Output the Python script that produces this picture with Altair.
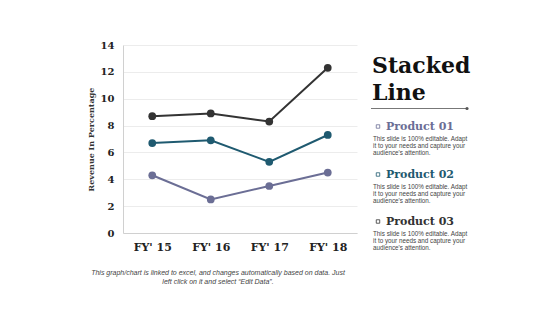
import altair as alt
import pandas as pd

years = ["FY' 15", "FY' 16", "FY' 17", "FY' 18"]
product_names = ["Product 01", "Product 02", "Product 03"]
product01 = [4.3, 2.5, 3.5, 4.5]
product02 = [6.7, 6.9, 5.3, 7.3]
product03 = [8.7, 8.9, 8.3, 12.3]
colors = ["#6b6e95", "#1f5a70", "#333333"]
y_ticks = [0, 2, 4, 6, 8, 10, 12, 14]

title_lines = ["Stacked", "Line"]
desc_lines = ["This slide is 100% editable. Adapt",
              "it to your needs and capture your",
              "audience's attention."]
footer_lines = ["This graph/chart is linked to excel, and changes automatically based on data. Just",
                "left click on it and select \u201cEdit Data\u201d."]

rows = []
for name, vals in zip(product_names, [product01, product02, product03]):
    for yr, v in zip(years, vals):
        rows.append({"Year": yr, "Product": name, "Value": v})
df = pd.DataFrame(rows)

W, H = 234, 188
L, T = 123, 45
SERIF = "DejaVu Serif"
SANS = "Liberation Sans"

x_enc = alt.X("Year:N", sort=years, scale=alt.Scale(paddingOuter=0.5),
              axis=alt.Axis(title=None, labelAngle=0, labelFont=SERIF, labelFontWeight="bold",
                            labelFontSize=11, labelColor="#222222", labelPadding=8, ticks=False,
                            domainColor="#d0d0d0", grid=False))
y_enc = alt.Y("Value:Q", scale=alt.Scale(domain=[0, 14]),
              axis=alt.Axis(title="Revenue In Percentage", values=y_ticks, titleFont=SERIF,
                            titleFontSize=8, titleFontWeight="bold", titleColor="#333333",
                            titlePadding=5, labelFont=SERIF, labelFontWeight="bold",
                            labelFontSize=10, labelColor="#222222", labelPadding=9,
                            ticks=False, domainColor="#d0d0d0", gridColor="#ececec"))
color_enc = alt.Color("Product:N", scale=alt.Scale(domain=product_names, range=colors), legend=None)

base = alt.Chart(df)
lines = base.mark_line(strokeWidth=2).encode(x=x_enc, y=y_enc, color=color_enc)
points = base.mark_point(filled=True, size=60, opacity=1).encode(x=x_enc, y=y_enc, color=color_enc)

def txt(text, px, py, size, font, weight="normal", color="#222222", style="normal", align="left"):
    return alt.Chart(pd.DataFrame({"t": [text]})).mark_text(
        align=align, baseline="alphabetic", font=font, fontSize=size, fontWeight=weight,
        color=color, fontStyle=style
    ).encode(text="t:N", x=alt.value(px - L), y=alt.value(py - T))

layers = [lines, points]
layers.append(txt(title_lines[0], 372, 73, 22, SERIF, "bold", "#111111"))
layers.append(txt(title_lines[1], 372, 100, 22, SERIF, "bold", "#111111"))
layers.append(alt.Chart(pd.DataFrame({"a": [0]})).mark_rule(color="#777777", strokeWidth=1).encode(
    x=alt.value(371 - L), x2=alt.value(467 - L), y=alt.value(108.5 - T)))
layers.append(alt.Chart(pd.DataFrame({"a": [0]})).mark_point(filled=True, color="#555555", size=10, opacity=1).encode(
    x=alt.value(467 - L), y=alt.value(108.5 - T)))

heading_y = [130, 178, 225]
for name, col, hy in zip(product_names, colors, heading_y):
    layers.append(alt.Chart(pd.DataFrame({"a": [0]})).mark_square(filled=False, color=col, size=12, strokeWidth=0.8, opacity=1).encode(
        x=alt.value(378 - L), y=alt.value(hy - 3.5 - T)))
    layers.append(txt(name, 386, hy, 11, SERIF, "bold", col))
    for i, d in enumerate(desc_lines):
        layers.append(txt(d, 373, hy + 11 + i * 7, 6.3, SANS, "normal", "#444444"))

layers.append(txt(footer_lines[0], 218, 275, 7, SANS, "normal", "#444444", "italic", "center"))
layers.append(txt(footer_lines[1], 218, 284, 7, SANS, "normal", "#444444", "italic", "center"))

chart = alt.layer(*layers).properties(
    width=W, height=H,
    autosize=alt.AutoSizeParams(type="none"),
    padding={"left": L, "top": T, "right": 560 - L - W, "bottom": 315 - T - H},
    background="white"
).configure_view(stroke=None)

chart.save("out.html", embed_options={"renderer": "svg", "actions": False})
